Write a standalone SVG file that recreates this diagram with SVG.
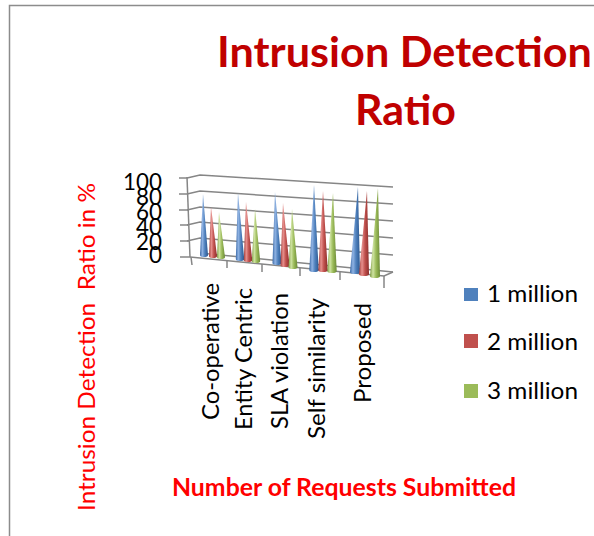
<svg xmlns="http://www.w3.org/2000/svg" width="594" height="536" viewBox="0 0 594 536">
<style>
.t{font-family:Lato,"Open Sans","Liberation Sans",sans-serif}
.lab{font-size:24px;fill:#000}
.grid{fill:none;stroke:#868686;stroke-width:1.5}
.red{fill:#FF0000}
</style>
<defs>
<linearGradient id="gB" x1="0" y1="0" x2="1" y2="0">
<stop offset="0" stop-color="#3a6aa8"/><stop offset="0.3" stop-color="#8fb2e2"/><stop offset="0.6" stop-color="#4f81bd"/><stop offset="1" stop-color="#2c5890"/>
</linearGradient>
<linearGradient id="gR" x1="0" y1="0" x2="1" y2="0">
<stop offset="0" stop-color="#a23c39"/><stop offset="0.3" stop-color="#e6908d"/><stop offset="0.6" stop-color="#c0504d"/><stop offset="1" stop-color="#8c2e2b"/>
</linearGradient>
<linearGradient id="gG" x1="0" y1="0" x2="1" y2="0">
<stop offset="0" stop-color="#7e9b44"/><stop offset="0.3" stop-color="#cfe3a2"/><stop offset="0.6" stop-color="#9bbb59"/><stop offset="1" stop-color="#6c8a37"/>
</linearGradient>
</defs>
<rect width="594" height="536" fill="#fff"/>
<g id="frame"><path d="M9.5 536 V5.5 H594" fill="none" stroke="#8c8c8c" stroke-width="1.5"/></g>

<g id="title" class="t" font-weight="bold" font-size="42" fill="#C00000">
<text x="217" y="67" textLength="375" lengthAdjust="spacingAndGlyphs">Intrusion Detection</text>
<text x="355" y="125" textLength="101" lengthAdjust="spacingAndGlyphs">Ratio</text>
</g>

<g id="axes">
<g class="grid">
<polyline points="187,178 200,175 393,187"/>
<polyline points="187,194 200,191 393,204"/>
<polyline points="187,210 200,207 393,221"/>
<polyline points="187,225 200,222 393,238"/>
<polyline points="187,241 200,238 393,255"/>
<polyline points="200,253 393,272"/>
<line x1="187" y1="177" x2="190" y2="257"/>
<line x1="179" y1="178" x2="187" y2="178"/>
<line x1="179" y1="194" x2="187" y2="194"/>
<line x1="179" y1="210" x2="188" y2="210"/>
<line x1="180" y1="225" x2="188" y2="225"/>
<line x1="180" y1="241" x2="189" y2="241"/>
<line x1="180" y1="257" x2="190" y2="257"/>
<polyline points="190,257 384,276 393,272"/>
<line x1="191" y1="257" x2="192" y2="265"/>
<line x1="227" y1="260.6" x2="227" y2="268"/>
<line x1="262" y1="264" x2="262" y2="272"/>
<line x1="300" y1="268" x2="300" y2="276"/>
<line x1="340" y1="272" x2="340" y2="280"/>
<line x1="384" y1="276" x2="384" y2="288"/>
</g>
<g class="t lab" text-anchor="end">
<text x="162" y="190" textLength="39" lengthAdjust="spacingAndGlyphs">100</text>
<text x="162" y="205" textLength="26" lengthAdjust="spacingAndGlyphs">80</text>
<text x="162" y="220" textLength="26" lengthAdjust="spacingAndGlyphs">60</text>
<text x="162" y="235" textLength="26" lengthAdjust="spacingAndGlyphs">40</text>
<text x="162" y="250" textLength="26" lengthAdjust="spacingAndGlyphs">20</text>
<text x="162" y="263" textLength="13" lengthAdjust="spacingAndGlyphs">0</text>
</g>
<g class="t lab" text-anchor="end">
<text transform="translate(219,283) rotate(-90)" textLength="137" lengthAdjust="spacingAndGlyphs">Co-operative</text>
<text transform="translate(252,288) rotate(-90)" textLength="142" lengthAdjust="spacingAndGlyphs">Entity Centric</text>
<text transform="translate(288,293) rotate(-90)" textLength="136" lengthAdjust="spacingAndGlyphs">SLA violation</text>
<text transform="translate(325,298) rotate(-90)" textLength="141" lengthAdjust="spacingAndGlyphs">Self similarity</text>
<text transform="translate(371,303) rotate(-90)" textLength="100" lengthAdjust="spacingAndGlyphs">Proposed</text>
</g>
</g>

<g id="series-1-million" fill="url(#gB)">
<path d="M203 194 L200 255 A4 2 0 0 0 208 255 Z"/>
<path d="M238 193 L235.8 259 A4.2 2 0 0 0 244.2 259 Z"/>
<path d="M275 192 L272.5 263 A4.5 2 0 0 0 281.5 263 Z"/>
<path d="M314 185 L309.3 270 A4.7 2 0 0 0 318.7 270 Z"/>
<path d="M358 187 L350 272 A5 2 0 0 0 360 272 Z"/>
</g>
<g id="series-2-million" fill="url(#gR)">
<path d="M211 207 L209 256 A4 2 0 0 0 217 256 Z"/>
<path d="M246 202 L243.8 260 A4.2 2 0 0 0 252.2 260 Z"/>
<path d="M283 203 L280.5 265 A4.5 2 0 0 0 289.5 265 Z"/>
<path d="M323 191 L318.3 270 A4.7 2 0 0 0 327.7 270 Z"/>
<path d="M367 191 L359 274 A5 2 0 0 0 369 274 Z"/>
</g>
<g id="series-3-million" fill="url(#gG)">
<path d="M219 212 L217 257 A4 2 0 0 0 225 257 Z"/>
<path d="M255 209 L251.8 261 A4.2 2 0 0 0 260.2 261 Z"/>
<path d="M292 209 L288.5 267 A4.5 2 0 0 0 297.5 267 Z"/>
<path d="M333 193 L327.3 271 A4.7 2 0 0 0 336.7 271 Z"/>
<path d="M378 188 L370 276 A5 2 0 0 0 380 276 Z"/>
</g>

<g id="legend" class="t lab">
<rect x="464" y="288" width="14" height="13" fill="#4F81BD"/>
<text x="487" y="302" textLength="91" lengthAdjust="spacingAndGlyphs">1 million</text>
<rect x="464" y="334" width="14" height="14" fill="#C0504D"/>
<text x="487" y="350" textLength="91" lengthAdjust="spacingAndGlyphs">2 million</text>
<rect x="464" y="384" width="14" height="14" fill="#9BBB59"/>
<text x="487" y="399" textLength="91" lengthAdjust="spacingAndGlyphs">3 million</text>
</g>

<g id="axis-titles" class="t red" font-size="24">
<text transform="translate(95,511) rotate(-90)" textLength="328" lengthAdjust="spacingAndGlyphs" xml:space="preserve">Intrusion Detection  Ratio in %</text>
<text x="172" y="496" font-weight="bold" textLength="344" lengthAdjust="spacingAndGlyphs">Number of Requests Submitted</text>
</g>
</svg>
